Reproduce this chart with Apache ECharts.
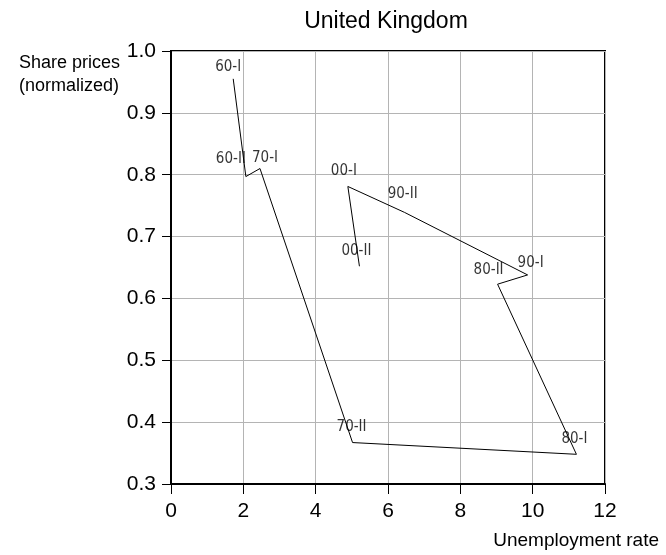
<!DOCTYPE html>
<html>
<head>
<meta charset="utf-8">
<script src="https://cdn.jsdelivr.net/npm/echarts@6/dist/echarts.min.js"></script>
<style>
html,body{margin:0;padding:0;background:#fff;}
#chart{width:666px;height:555px;}
</style>
</head>
<body>
<div id="chart"></div>
<script>
// Data
var pointLabels = ['60-I', '60-II', '70-I', '70-II', '80-I', '80-II', '90-I', '90-II', '00-I', '00-II'];
var unemployment = [1.72, 2.07, 2.46, 5.02, 11.21, 9.03, 9.86, 6.46, 4.89, 5.21];
var sharePrices = [0.955, 0.797, 0.810, 0.367, 0.348, 0.623, 0.638, 0.739, 0.781, 0.652];
var xTicks = [0, 2, 4, 6, 8, 10, 12];
var yTicks = [0.3, 0.4, 0.5, 0.6, 0.7, 0.8, 0.9, 1.0];

// Label placement (style only)
var labelShift = [[-5,-12],[-15,-17],[5,-10],[-1,-15],[-2,-15],[-9,-14],[3,-12],[-2,-18],[-4,-15],[-3,-15]];

var FONT = '"Liberation Sans", Arial, sans-serif';
var NARROW = '"Liberation Sans Narrow", "Arial Narrow", "DejaVu Sans Condensed", sans-serif';

var lineData = unemployment.map(function (u, i) { return [u, sharePrices[i]]; });
var labelData = unemployment.map(function (u, i) {
  return {
    value: [u, sharePrices[i]],
    name: pointLabels[i],
    label: { offset: labelShift[i] }
  };
});

var chart = echarts.init(document.getElementById('chart'), null, { renderer: 'canvas' });
chart.setOption({
  backgroundColor: '#ffffff',
  animation: false,
  title: [{
    text: 'United Kingdom',
    left: 381,
    top: 5,
    textAlign: 'center',
    textStyle: { fontFamily: FONT, fontSize: 23, fontWeight: 'normal', color: '#000' }
  }],
  graphic: [
    {
      type: 'text', left: 19, top: 52,
      style: { text: 'Share prices\n(normalized)', fontFamily: FONT, fontSize: 18, lineHeight: 23, fill: '#000' }
    },
    {
      type: 'text', right: 7, top: 531,
      style: { text: 'Unemployment rate', fontFamily: FONT, fontSize: 19, fill: '#000' }
    }
  ],
  grid: {
    left: 171, right: 61, top: 51, bottom: 71,
    show: true, borderColor: '#000', borderWidth: 2, backgroundColor: '#fff'
  },
  xAxis: {
    type: 'value',
    min: xTicks[0], max: xTicks[xTicks.length - 1], interval: 2,
    axisLine: { show: true, lineStyle: { color: '#000', width: 2 } },
    axisTick: { show: true, length: 10, lineStyle: { color: '#000', width: 1 } },
    axisLabel: { fontFamily: FONT, fontSize: 21, color: '#000', margin: 17 },
    splitLine: { show: true, lineStyle: { color: '#b4b4b4', width: 1 } }
  },
  yAxis: {
    type: 'value',
    min: yTicks[0], max: yTicks[yTicks.length - 1], interval: 0.1,
    axisLine: { show: true, lineStyle: { color: '#000', width: 2 } },
    axisTick: { show: true, length: 9, lineStyle: { color: '#000', width: 1 } },
    axisLabel: {
      fontFamily: FONT, fontSize: 21, color: '#000', margin: 15,
      formatter: function (v) { return v.toFixed(1); }
    },
    splitLine: { show: true, lineStyle: { color: '#b4b4b4', width: 1 } }
  },
  series: [
    {
      type: 'line',
      data: lineData,
      symbol: 'none',
      lineStyle: { color: '#000', width: 1 },
      silent: true,
      z: 3
    },
    {
      type: 'scatter',
      data: labelData,
      symbolSize: 0,
      silent: true,
      label: {
        show: true,
        position: 'inside',
        formatter: function (p) { return p.name; },
        fontFamily: NARROW,
        fontSize: 15,
        color: '#000'
      },
      z: 4
    }
  ]
});
</script>
</body>
</html>
